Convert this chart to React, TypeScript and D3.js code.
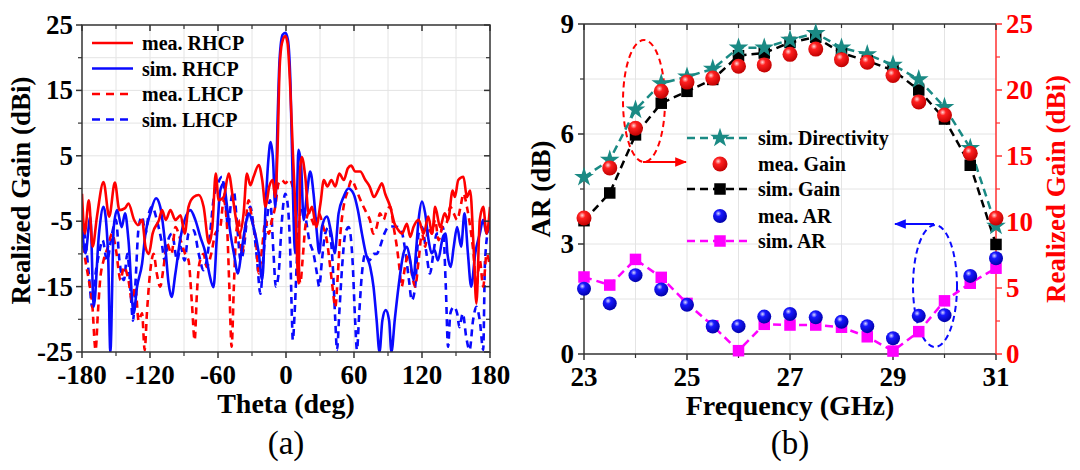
import React from "react";
import * as d3 from "d3";

// ---------- Panel (a) data: [theta (deg), realized gain (dBi)] ----------
const thetaTicks = [-180, -120, -60, 0, 60, 120, 180];
const gainTicksA = [25, 15, 5, -5, -15, -25];

const meaRHCP: [number, number][] = [
  [-180, -0.8], [-177.6, -6.9], [-174, -1.8], [-170.6, -8.9], [-166.8, -4.3], [-161, 1.0], [-156, -4.3],
  [-151, 0.9], [-147, -3.3], [-142, -3.0], [-139, -2.3], [-134, -4.8], [-130.5, -5.6], [-127, -4.8],
  [-124, -8.9], [-121, -10], [-117.7, -6.9], [-112, -4.8], [-109.4, -3.3], [-106, -4.8], [-102, -3.3],
  [-97.6, -4.8], [-93, -4.1], [-89.4, -6.9], [-86, -2.8], [-81.5, -1.3], [-77, -1.0], [-72.7, -2.8],
  [-68, -8.4], [-65, -5.9], [-62, 2.3], [-59.4, -1.8], [-55, -1.3], [-50.6, 2.3], [-47, -1.3],
  [-44, -4.8], [-41, -6.9], [-37.4, -3.8], [-34.5, 2.3], [-31.5, 0.5], [-28.6, 1.8], [-24, 3.6],
  [-21, 1.3], [-18, -2.8], [-14.8, 0.3], [-11.8, 1.3], [-9.5, -1.3], [-7.4, 6.4], [-5.7, 18.1],
  [-3.6, 22.2], [-0.6, 23.3], [1.4, 22.2], [3.7, 15.6], [6.1, 5.4], [8.7, -4.8], [11, -14.5],
  [12.6, 3.3], [14, 4.8], [17, 1.8], [20, -3.8], [23, -2.8], [26.6, -5.9], [30.4, -2.3], [33.4, 1.3],
  [36.5, 0.3], [40, 1.3], [43.5, 0.3], [47, 2.3], [51, 1.3], [54.6, 3.1], [57.5, 3.5], [61, 2.6],
  [65.5, 2.6], [70, 1.3], [73.8, 0.3], [77.6, -1.3], [82, 0], [84.6, 0.8], [87.5, -0.8], [92, -2.8],
  [95.8, -5.4], [99.3, -6.4], [102.3, -6.9], [106.7, -5.4], [109.6, -7.4], [112.5, -5.9], [117, -4.8],
  [121.5, -6.9], [125.5, -4.3], [129, -6.9], [131.6, -2.8], [136, -5.9], [140, -3.8], [143, -4.8],
  [147, -0.3], [149, -1.3], [152, 1.3], [156.6, 1.8], [159.6, -1.3], [162.5, -0.3], [165.5, -8.9],
  [168, -17.6], [171, -4.8], [174, -2.8], [177, -6.9], [180, -2.8],
];

const simRHCP: [number, number][] = [
  [-180, -5.9], [-177, -9.9], [-172.6, -4.3], [-169.7, -18.1], [-165, -6.9], [-161, -2.8], [-157, -9.9],
  [-155, -25], [-152, -5.9], [-149, -3.3], [-145, -5.9], [-142, -3.8], [-139, -7.9], [-134.4, -19.1],
  [-131.5, -15.1], [-127, -11.5], [-124, -6.9], [-119.7, -3.8], [-114.7, -1.5], [-111, -2.8],
  [-107, -7.9], [-103.6, -14.5], [-101, -16.6], [-97.6, -13], [-93, -7.4], [-89.4, -4.8], [-84.4, -3.3],
  [-80, -4.8], [-75.6, -7.4], [-71, -9.9], [-67.7, -13], [-64, -15.1], [-61, -7.4], [-58, -0.3],
  [-55, 0.8], [-52, -2.8], [-49, -6.9], [-46, -9.9], [-42.4, -13], [-39.5, -9.9], [-36, -5.9],
  [-33, -3.8], [-28.6, -5.9], [-24, -9.9], [-21, -14], [-18, -2.8], [-15.6, 4.3], [-13.6, 7.1],
  [-11.4, 4.3], [-9.5, -2.8], [-7.4, 10.5], [-5.7, 19.6], [-3, 23.5], [-0.6, 23.8], [1.7, 22.7],
  [4, 15.6], [6, 0.3], [8, -9.9], [9.6, -2.3], [11, 5.9], [13.4, 3.3], [15.5, -4.8], [18.5, -0.8],
  [21.4, 2.6], [24.3, -0.8], [27.3, -6.9], [29.3, -9.9], [31.7, -5.9], [36, -4.3], [40, -6.9],
  [43, -9.9], [46.4, -3.8], [50.8, -1.3], [55, 0], [59.6, -0.8], [63.4, -3.3], [67, -6.9], [70.4, -9.9],
  [74.3, -12], [77.2, -15], [80, -20.2], [82.5, -25], [85, -20.2], [88, -18.6], [91, -20.2], [93, -25],
  [96, -20], [99.3, -15], [103.7, -9.9], [106.7, -8.9], [109.6, -11], [112.5, -14], [114.6, -9.9],
  [117, -4.8], [120, -2], [122.8, -3.8], [125.8, -7.9], [128.5, -9.9], [131, -9.4], [134, -11],
  [138.5, -7.4], [141, -6.9], [142.4, -9.9], [145.3, -12], [148, -8.9], [151, -5.9], [154.5, -8.9],
  [157.5, -3.8], [160.5, -9.9], [163.4, -15], [167, -9.9], [171, -6.9], [174, -4.8], [177, -6.9],
  [180, -4.8],
];

const meaLHCP: [number, number][] = [
  [-180, -6.9], [-177, -11], [-174, -14], [-171, -17.6], [-168, -24.7], [-166, -19.1], [-164, -14],
  [-161, -11], [-157, -8.9], [-153.5, -6.9], [-150, -9.4], [-146, -14], [-143, -12], [-139, -14],
  [-136, -17.1], [-133, -15], [-130, -20.2], [-127, -19.1], [-124.7, -24.7], [-122.7, -19],
  [-120, -13], [-116.8, -10], [-114, -13], [-111, -15], [-108, -12], [-105, -8.4], [-101, -10],
  [-97.6, -5.9], [-93, -7.9], [-89, -10], [-86, -11], [-83, -17.6], [-80.6, -23.2], [-78.6, -16],
  [-76.5, -11.5], [-72.7, -10], [-70, -12], [-66, -10], [-62.4, -6.9], [-58, -5.9], [-55, -1.8],
  [-52, -5.9], [-50, -15], [-48, -24.2], [-46, -15], [-44, -6.9], [-41.8, -4.8], [-39, -10],
  [-36, -5.9], [-33, -1.8], [-30, -4.8], [-26.5, -7.9], [-24, -13], [-21, -8.9], [-18, -4.8],
  [-15.3, -6.9], [-12.4, -4.8], [-9.5, -2.8], [-6.5, 0.8], [-3.6, 1.3], [-0.6, 0.8], [3, 1.4],
  [5.8, 0.3], [8, -5.9], [10.5, -10], [12.6, -14.5], [14.6, -11], [17, -5.9], [20, -3.8], [22.9, -4.8],
  [25.8, -5.9], [28.8, -3.8], [33, -5.9], [36, -7.9], [39, -12], [41, -15], [43.5, -18.1], [45.8, -13],
  [48, -6.9], [50.8, -2.8], [54.6, -0.3], [58, 1.3], [61, 0.3], [64.6, -1.3], [68.4, -2.8], [71.3, -3.8],
  [74, -4.8], [77, -6.9], [80, -5.9], [83, -3.8], [86, -4.8], [89, -3.3], [92, -2.8], [95, -5.9],
  [97.8, -8.9], [100, -12], [102, -15], [105, -12], [108, -10], [111, -13], [114, -15], [117, -11],
  [120, -6.9], [122.8, -8.9], [125.6, -5.9], [128.5, -6.9], [131.6, -4.8], [134.6, -7.9], [138, -5.9],
  [141.5, -5.4], [145, -2.8], [148, -3.8], [151, -4.8], [154, -2.8], [156.6, -0.8], [159.6, -2.8],
  [162.6, -5.9], [165.5, -10], [168, -15], [171, -11], [174, -15], [177, -10], [180, -12],
];

const simLHCP: [number, number][] = [
  [-180, -4.8], [-177, -7.9], [-174, -13], [-171, -18.1], [-168, -13], [-165, -10], [-161.8, -7.9],
  [-158, -11], [-153.5, -6.9], [-150, -4.8], [-147, -11], [-143, -14], [-140, -10], [-137.4, -15],
  [-135, -20.2], [-133, -15], [-130, -5.9], [-127, -4.3], [-124, -6.9], [-121, -3.8], [-118, -2.8],
  [-114, -4.8], [-110, -7.9], [-107, -11], [-104, -7.9], [-100.6, -6.9], [-96, -11], [-93, -8.9],
  [-89.5, -11], [-86, -6.9], [-81.5, -6.4], [-77, -10], [-72.7, -12.5], [-70, -11], [-67, -6.9],
  [-64, -1.8], [-60, 0.8], [-56.5, 1.8], [-53.6, -1.8], [-51, -5.9], [-48, -1.3], [-46, -0.5],
  [-43, -5.9], [-40, -11], [-37, -8.9], [-34.5, -4.8], [-31.5, -2.8], [-28.6, -5.9], [-25.5, -11],
  [-22.6, -16.1], [-19.8, -10], [-16.8, -4.8], [-14, -1.8], [-11, -10], [-9, -15], [-6.5, -13],
  [-4, -5.9], [-2, -1.8], [-0.6, -0.8], [1.7, -2.8], [3.8, -10], [5.3, -20.2], [6, -23.2], [7.6, -19.1],
  [9.6, -11], [11.7, -4.8], [14.6, -2.8], [17.6, -4.8], [20.5, -7.9], [24.3, -10], [27.3, -13],
  [29.3, -15], [31.7, -11], [34.6, -6.9], [37.6, -5.9], [41, -11], [43.5, -20.2], [45, -24.7],
  [47, -19.1], [49.5, -12], [52.3, -6.9], [55.3, -5.9], [58.7, -11], [61, -20.2], [62.6, -24.7],
  [64.6, -19.1], [67, -13], [70, -10], [73.5, -11], [77.3, -10], [80, -10], [83, -8.9], [86.8, -6.9],
  [90.3, -5.9], [94.7, -5.8], [99.3, -5.9], [102.6, -6.9], [105.6, -10], [108.5, -14], [111, -17.1],
  [114, -15], [117, -6.9], [120, -5.9], [123.5, -9.4], [127, -13], [130, -10], [133, -6.9], [135.5, -6.9],
  [138.5, -5.9], [141, -15], [143, -24.2], [145, -19.1], [148, -18.1], [151, -19.1], [153, -21.2],
  [156, -19.1], [159, -22.7], [162, -24.7], [165, -20.2], [168, -18.1], [171, -20.2], [174, -24.7],
  [175.6, -11], [180, -4.8],
];

// ---------- Panel (b) data ----------
const freq = [23, 23.5, 24, 24.5, 25, 25.5, 26, 26.5, 27, 27.5, 28, 28.5, 29, 29.5, 30, 30.5, 31];
const freqTicks = [23, 25, 27, 29, 31];
const arTicks = [0, 3, 6, 9];
const gainTicksB = [0, 5, 10, 15, 20, 25];
const simDirectivity = [13.4, 14.7, 18.5, 20.5, 21.0, 21.6, 23.2, 23.2, 23.8, 24.3, 23.2, 22.7, 21.9, 20.8, 18.7, 15.6, 9.7];
const meaGain = [10.3, 14.1, 17.1, 19.9, 20.6, 20.9, 21.8, 21.9, 22.7, 23.1, 22.3, 22.1, 21.1, 19.1, 18.1, 15.2, 10.3];
const simGain = [10.1, 12.2, 16.6, 19.0, 19.9, 20.8, 22.6, 22.8, 23.6, 24.0, 22.8, 22.2, 21.5, 20.0, 17.8, 14.3, 8.3];
const meaAR = [1.78, 1.38, 2.15, 1.76, 1.34, 0.75, 0.76, 1.02, 1.09, 1.0, 0.88, 0.76, 0.43, 1.04, 1.06, 2.13, 2.61];
const simAR = [2.1, 1.88, 2.58, 2.09, 1.38, 0.77, 0.09, 0.81, 0.79, 0.79, 0.73, 0.47, 0.08, 0.61, 1.45, 1.93, 2.34];

const legendA = ["mea. RHCP", "sim. RHCP", "mea. LHCP", "sim. LHCP"];
const legendB = ["sim. Directivity", "mea. Gain", "sim. Gain", "mea. AR", "sim. AR"];

const FONT = "'Liberation Serif', 'Times New Roman', serif";
const RED = "#ff0000";
const BLUE = "#0a0aff";
const TEAL = "#1a8a84";
const MAGENTA = "#ff00ff";
const GRID = "#e4e4e4";
const AXIS = "#333";

function Sphere({ x, y, r, id }: { x: number; y: number; r: number; id: string }) {
  return <circle cx={x} cy={y} r={r} fill={`url(#${id})`} />;
}

function PanelA() {
  const L = 82, R = 490, T = 25, B = 352;
  const x = d3.scaleLinear().domain([-180, 180]).range([L, R]);
  const y = d3.scaleLinear().domain([-25, 25]).range([B, T]);
  const line = d3
    .line<[number, number]>()
    .x((d) => x(d[0]))
    .y((d) => y(d[1]))
    .curve(d3.curveMonotoneX);
  const vGrid = d3.range(-150, 180, 30);
  const hGrid = d3.range(-20, 25, 5);
  const minorX = d3.range(-150, 180, 60);
  const minorY = d3.range(-20, 25, 10);
  const series = [
    { d: simLHCP, c: BLUE, dash: "7,5" },
    { d: meaLHCP, c: RED, dash: "7,5" },
    { d: simRHCP, c: BLUE, dash: undefined },
    { d: meaRHCP, c: RED, dash: undefined },
  ];
  const legendStyles = [
    { c: RED, dash: undefined },
    { c: BLUE, dash: undefined },
    { c: RED, dash: "8,6" },
    { c: BLUE, dash: "8,6" },
  ];
  return (
    <g>
      <defs>
        <clipPath id="clipA">
          <rect x={L} y={T} width={R - L} height={B - T} />
        </clipPath>
      </defs>
      {vGrid.map((v) => (
        <line key={"vg" + v} x1={x(v)} x2={x(v)} y1={T} y2={B} stroke={GRID} strokeWidth={1} />
      ))}
      {hGrid.map((v) => (
        <line key={"hg" + v} x1={L} x2={R} y1={y(v)} y2={y(v)} stroke={GRID} strokeWidth={1} />
      ))}
      <g clipPath="url(#clipA)">
        {series.map((s, i) => (
          <path key={i} d={line(s.d) || ""} fill="none" stroke={s.c} strokeWidth={2.6}
            strokeDasharray={s.dash} strokeLinejoin="round" />
        ))}
      </g>
      <rect x={L} y={T} width={R - L} height={B - T} fill="none" stroke={AXIS} strokeWidth={1.5} />
      {thetaTicks.map((v) => (
        <g key={"xt" + v}>
          <line x1={x(v)} x2={x(v)} y1={B} y2={B + 6} stroke={AXIS} strokeWidth={1.5} />
          <line x1={x(v)} x2={x(v)} y1={T} y2={T + 6} stroke={AXIS} strokeWidth={1.5} />
          <text x={x(v)} y={B + 32} textAnchor="middle" fontFamily={FONT} fontWeight="bold" fontSize={27}>{v}</text>
        </g>
      ))}
      {minorX.map((v) => (
        <g key={"xm" + v}>
          <line x1={x(v)} x2={x(v)} y1={B} y2={B + 4} stroke={AXIS} strokeWidth={1.2} />
          <line x1={x(v)} x2={x(v)} y1={T} y2={T + 4} stroke={AXIS} strokeWidth={1.2} />
        </g>
      ))}
      {gainTicksA.map((v) => (
        <g key={"yt" + v}>
          <line x1={L - 6} x2={L} y1={y(v)} y2={y(v)} stroke={AXIS} strokeWidth={1.5} />
          <line x1={R - 6} x2={R} y1={y(v)} y2={y(v)} stroke={AXIS} strokeWidth={1.5} />
          <text x={L - 9} y={y(v) + 9} textAnchor="end" fontFamily={FONT} fontWeight="bold" fontSize={27}>{v}</text>
        </g>
      ))}
      {minorY.map((v) => (
        <g key={"ym" + v}>
          <line x1={L - 4} x2={L} y1={y(v)} y2={y(v)} stroke={AXIS} strokeWidth={1.2} />
          <line x1={R - 4} x2={R} y1={y(v)} y2={y(v)} stroke={AXIS} strokeWidth={1.2} />
        </g>
      ))}
      <text transform={`translate(30,${(T + B) / 2 + 2}) rotate(-90)`} textAnchor="middle"
        fontFamily={FONT} fontWeight="bold" fontSize={27}>Realized Gain (dBi)</text>
      <text x={(L + R) / 2} y={B + 61} textAnchor="middle" fontFamily={FONT} fontWeight="bold" fontSize={28}>Theta (deg)</text>
      <text x={(L + R) / 2} y={B + 102} textAnchor="middle" fontFamily={FONT} fontSize={33}>(a)</text>
      {legendA.map((name, i) => {
        const ly = 43 + i * 25.5;
        return (
          <g key={name}>
            <line x1={92} x2={133} y1={ly} y2={ly} stroke={legendStyles[i].c} strokeWidth={2.6}
              strokeDasharray={legendStyles[i].dash} />
            <text x={142} y={ly + 7} fontFamily={FONT} fontWeight="bold" fontSize={20}>{name}</text>
          </g>
        );
      })}
    </g>
  );
}

function PanelB() {
  const L = 584, R = 996, T = 24, B = 354;
  const x = d3.scaleLinear().domain([23, 31]).range([L, R]);
  const yA = d3.scaleLinear().domain([0, 9]).range([B, T]);
  const yG = d3.scaleLinear().domain([0, 25]).range([B, T]);
  const lineG = d3.line<number>().x((_, i) => x(freq[i])).y((d) => yG(d));
  const lineA = d3.line<number>().x((_, i) => x(freq[i])).y((d) => yA(d));
  const vGrid = d3.range(24, 31, 1);
  const hGrid = [1.5, 3, 4.5, 6, 7.5];
  const minorX = [24, 26, 28, 30];
  const minorA = [1.5, 4.5, 7.5];
  const minorG = [2.5, 7.5, 12.5, 17.5, 22.5];
  const star = d3.symbol().type(d3.symbolStar).size(120)() || "";
  const sq = 11.5;
  const Square = ({ cx, cy, fill }: { cx: number; cy: number; fill: string }) => (
    <rect x={cx - sq / 2} y={cy - sq / 2} width={sq} height={sq} fill={fill} />
  );
  const lx1 = 687, lx2 = 750, lmx = 720, ltx = 758;
  const ly = [138, 164, 189, 216, 241];
  return (
    <g>
      <defs>
        <radialGradient id="redBall" cx="0.38" cy="0.32" r="0.7">
          <stop offset="0" stopColor="#ffd6d6" />
          <stop offset="0.3" stopColor="#ff2020" />
          <stop offset="1" stopColor="#c00000" />
        </radialGradient>
        <radialGradient id="blueBall" cx="0.38" cy="0.32" r="0.7">
          <stop offset="0" stopColor="#d8d8ff" />
          <stop offset="0.3" stopColor="#1818ff" />
          <stop offset="1" stopColor="#0000a8" />
        </radialGradient>
        <marker id="arrowR" viewBox="0 0 10 10" refX="9" refY="5" markerWidth="6" markerHeight="6" orient="auto">
          <path d="M0,1 L10,5 L0,9 z" fill={RED} />
        </marker>
        <marker id="arrowB" viewBox="0 0 10 10" refX="9" refY="5" markerWidth="6" markerHeight="6" orient="auto">
          <path d="M0,1 L10,5 L0,9 z" fill={BLUE} />
        </marker>
      </defs>
      {vGrid.map((v) => (
        <line key={"vg" + v} x1={x(v)} x2={x(v)} y1={T} y2={B} stroke={GRID} strokeWidth={1} />
      ))}
      {hGrid.map((v) => (
        <line key={"hg" + v} x1={L} x2={R} y1={yA(v)} y2={yA(v)} stroke={GRID} strokeWidth={1} />
      ))}
      <line x1={L} x2={R} y1={T} y2={T} stroke={AXIS} strokeWidth={1.5} />
      <line x1={L} x2={R} y1={B} y2={B} stroke={AXIS} strokeWidth={1.5} />
      <line x1={L} x2={L} y1={T} y2={B} stroke={AXIS} strokeWidth={1.5} />
      <line x1={R} x2={R} y1={T} y2={B} stroke="#ff3030" strokeWidth={1.5} />
      {freqTicks.map((v) => (
        <g key={"xt" + v}>
          <line x1={x(v)} x2={x(v)} y1={B} y2={B + 6} stroke={AXIS} strokeWidth={1.5} />
          <line x1={x(v)} x2={x(v)} y1={T} y2={T + 6} stroke={AXIS} strokeWidth={1.5} />
          <text x={x(v)} y={B + 32} textAnchor="middle" fontFamily={FONT} fontWeight="bold" fontSize={27}>{v}</text>
        </g>
      ))}
      {minorX.map((v) => (
        <g key={"xm" + v}>
          <line x1={x(v)} x2={x(v)} y1={B} y2={B + 4} stroke={AXIS} strokeWidth={1.2} />
          <line x1={x(v)} x2={x(v)} y1={T} y2={T + 4} stroke={AXIS} strokeWidth={1.2} />
        </g>
      ))}
      {arTicks.map((v) => (
        <g key={"ya" + v}>
          <line x1={L - 6} x2={L} y1={yA(v)} y2={yA(v)} stroke={AXIS} strokeWidth={1.5} />
          <text x={L - 10} y={yA(v) + 9} textAnchor="end" fontFamily={FONT} fontWeight="bold" fontSize={27}>{v}</text>
        </g>
      ))}
      {minorA.map((v) => (
        <line key={"ma" + v} x1={L - 4} x2={L} y1={yA(v)} y2={yA(v)} stroke={AXIS} strokeWidth={1.2} />
      ))}
      {gainTicksB.map((v) => (
        <g key={"yg" + v}>
          <line x1={R} x2={R + 6} y1={yG(v)} y2={yG(v)} stroke="#ff3030" strokeWidth={1.5} />
          <text x={R + 10} y={yG(v) + 9} textAnchor="start" fontFamily={FONT} fontWeight="bold" fontSize={27} fill={RED}>{v}</text>
        </g>
      ))}
      {minorG.map((v) => (
        <line key={"mg" + v} x1={R} x2={R + 4} y1={yG(v)} y2={yG(v)} stroke="#ff3030" strokeWidth={1.2} />
      ))}
      <text transform={`translate(550,${(T + B) / 2}) rotate(-90)`} textAnchor="middle"
        fontFamily={FONT} fontWeight="bold" fontSize={27}>AR (dB)</text>
      <text transform={`translate(1065,${(T + B) / 2}) rotate(-90)`} textAnchor="middle"
        fontFamily={FONT} fontWeight="bold" fontSize={27} fill={RED}>Realized Gain (dBi)</text>
      <text x={(L + R) / 2} y={B + 61} textAnchor="middle" fontFamily={FONT} fontWeight="bold" fontSize={28}>Frequency (GHz)</text>
      <text x={(L + R) / 2} y={B + 100} textAnchor="middle" fontFamily={FONT} fontSize={33}>(b)</text>

      <ellipse cx={644} cy={101} rx={21} ry={61} fill="none" stroke={RED} strokeWidth={2} strokeDasharray="6,4" />
      <line x1={643} x2={686} y1={162} y2={162} stroke={RED} strokeWidth={2} markerEnd="url(#arrowR)" />
      <ellipse cx={935} cy={286} rx={22} ry={61} fill="none" stroke={BLUE} strokeWidth={2} strokeDasharray="6,4" />
      <line x1={934} x2={895} y1={224} y2={224} stroke={BLUE} strokeWidth={2} markerEnd="url(#arrowB)" />

      <path d={lineA(simAR) || ""} fill="none" stroke={MAGENTA} strokeWidth={2.5} strokeDasharray="8,5" />
      <path d={lineG(simGain) || ""} fill="none" stroke="#000" strokeWidth={2.5} strokeDasharray="8,5" />
      <path d={lineG(simDirectivity) || ""} fill="none" stroke={TEAL} strokeWidth={2.5} strokeDasharray="8,5" />
      {simAR.map((v, i) => <Square key={"sa" + i} cx={x(freq[i])} cy={yA(v)} fill={MAGENTA} />)}
      {meaAR.map((v, i) => <Sphere key={"ma" + i} x={x(freq[i])} y={yA(v)} r={7} id="blueBall" />)}
      {simGain.map((v, i) => <Square key={"sg" + i} cx={x(freq[i])} cy={yG(v)} fill="#000" />)}
      {simDirectivity.map((v, i) => (
        <path key={"sd" + i} d={star} transform={`translate(${x(freq[i])},${yG(v)})`} fill={TEAL} />
      ))}
      {meaGain.map((v, i) => <Sphere key={"mg" + i} x={x(freq[i])} y={yG(v)} r={7.5} id="redBall" />)}

      <line x1={lx1} x2={lx2} y1={ly[0]} y2={ly[0]} stroke={TEAL} strokeWidth={2.5} strokeDasharray="8,5" />
      <path d={star} transform={`translate(${lmx},${ly[0]})`} fill={TEAL} />
      <Sphere x={lmx} y={ly[1]} r={7.5} id="redBall" />
      <line x1={lx1} x2={lx2} y1={ly[2]} y2={ly[2]} stroke="#000" strokeWidth={2.5} strokeDasharray="8,5" />
      <Square cx={lmx} cy={ly[2]} fill="#000" />
      <Sphere x={lmx} y={ly[3]} r={7} id="blueBall" />
      <line x1={lx1} x2={lx2} y1={ly[4]} y2={ly[4]} stroke={MAGENTA} strokeWidth={2.5} strokeDasharray="8,5" />
      <Square cx={lmx} cy={ly[4]} fill={MAGENTA} />
      {legendB.map((name, i) => (
        <text key={name} x={ltx} y={ly[i] + 7} fontFamily={FONT} fontWeight="bold" fontSize={20}>{name}</text>
      ))}
    </g>
  );
}

export default function App() {
  return (
    <svg width={1080} height={470} viewBox="0 0 1080 470"
      style={{ position: "absolute", left: 0, top: 0, background: "#fff" }}>
      <rect width={1080} height={470} fill="#fff" />
      <PanelA />
      <PanelB />
    </svg>
  );
}
